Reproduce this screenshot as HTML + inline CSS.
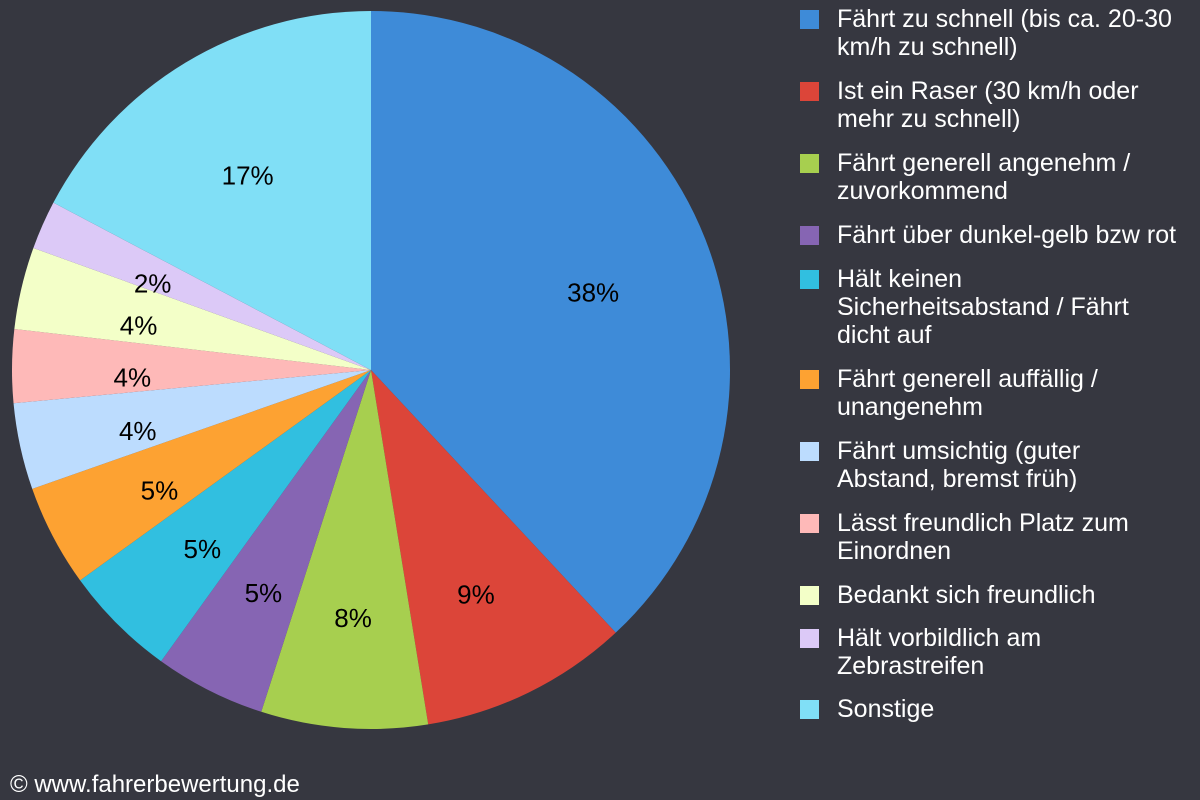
<!DOCTYPE html>
<html><head><meta charset="utf-8">
<style>
body{margin:0;width:1200px;height:800px;background:#363740;overflow:hidden;font-family:"Liberation Sans",sans-serif;position:relative}
.leg{position:absolute;left:800px;width:400px}
.sw{position:absolute;left:0;top:0;width:19px;height:19px}
.lt{position:absolute;left:37px;top:-5px;color:#fff;font-size:25px;line-height:28px;width:362px;white-space:pre-line}
#copy{position:absolute;left:10px;top:771px;color:#fff;font-size:24px}
</style></head><body>
<svg id="pie" width="760" height="760" style="position:absolute;left:0;top:0"></svg>
<div id="legend"></div>
<div id="copy">© www.fahrerbewertung.de</div>
<script>
const categories=["Fährt zu schnell (bis ca. 20-30\nkm/h zu schnell)","Ist ein Raser (30 km/h oder\nmehr zu schnell)","Fährt generell angenehm /\nzuvorkommend","Fährt über dunkel-gelb bzw rot","Hält keinen\nSicherheitsabstand / Fährt\ndicht auf","Fährt generell auffällig /\nunangenehm","Fährt umsichtig (guter\nAbstand, bremst früh)","Lässt freundlich Platz zum\nEinordnen","Bedankt sich freundlich","Hält vorbildlich am\nZebrastreifen","Sonstige"];
const values=[38.1,9.4,7.5,5.0,5.1,4.6,3.9,3.3,3.7,2.2,17.3];
const labels=["38%","9%","8%","5%","5%","5%","4%","4%","4%","2%","17%"];
const colors=["#3e8bd8","#dc4539","#a7cf4f","#8665b3","#31bfe0","#fda232","#bcdcfe","#feb9b8","#f3ffc8","#dcc9f7","#80dff6"];
const legendTops=[10,82,154,226,270,370,442,514,586,629,700];
const cx=371,cy=370,r=359;
const svg=document.getElementById('pie');
const NS="http://www.w3.org/2000/svg";
const total=values.reduce((a,b)=>a+b,0);
function pt(a,rr){return [cx+rr*Math.sin(a),cy-rr*Math.cos(a)];}
let ang=0;
values.forEach((v,i)=>{
 const sweep=v/total*2*Math.PI;
 const [x1,y1]=pt(ang,r),[x2,y2]=pt(ang+sweep,r);
 const p=document.createElementNS(NS,'path');
 p.setAttribute('d',`M${cx},${cy}L${x1},${y1}A${r},${r} 0 ${sweep>Math.PI?1:0} 1 ${x2},${y2}Z`);
 p.setAttribute('fill',colors[i]);
 
 
 svg.appendChild(p);
 const [lx,ly]=pt(ang+sweep/2,r*0.665);
 const t=document.createElementNS(NS,'text');
 t.setAttribute('x',lx);t.setAttribute('y',ly+19);
 t.setAttribute('text-anchor','middle');t.setAttribute('font-size','26');
 t.setAttribute('font-family','Liberation Sans, sans-serif');t.setAttribute('fill','#000');
 t.textContent=labels[i];
 
 
 svg.appendChild(t);
 ang+=sweep;
});
const leg=document.getElementById('legend');
categories.forEach((c,i)=>{
 const d=document.createElement('div');d.className='leg';d.style.top=legendTops[i]+'px';
 
 
 const s=document.createElement('div');s.className='sw';s.style.background=colors[i];
 
 
 const t=document.createElement('div');t.className='lt';t.textContent=c;
 
 
 d.appendChild(s);d.appendChild(t);leg.appendChild(d);
});
</script>
</body></html>
